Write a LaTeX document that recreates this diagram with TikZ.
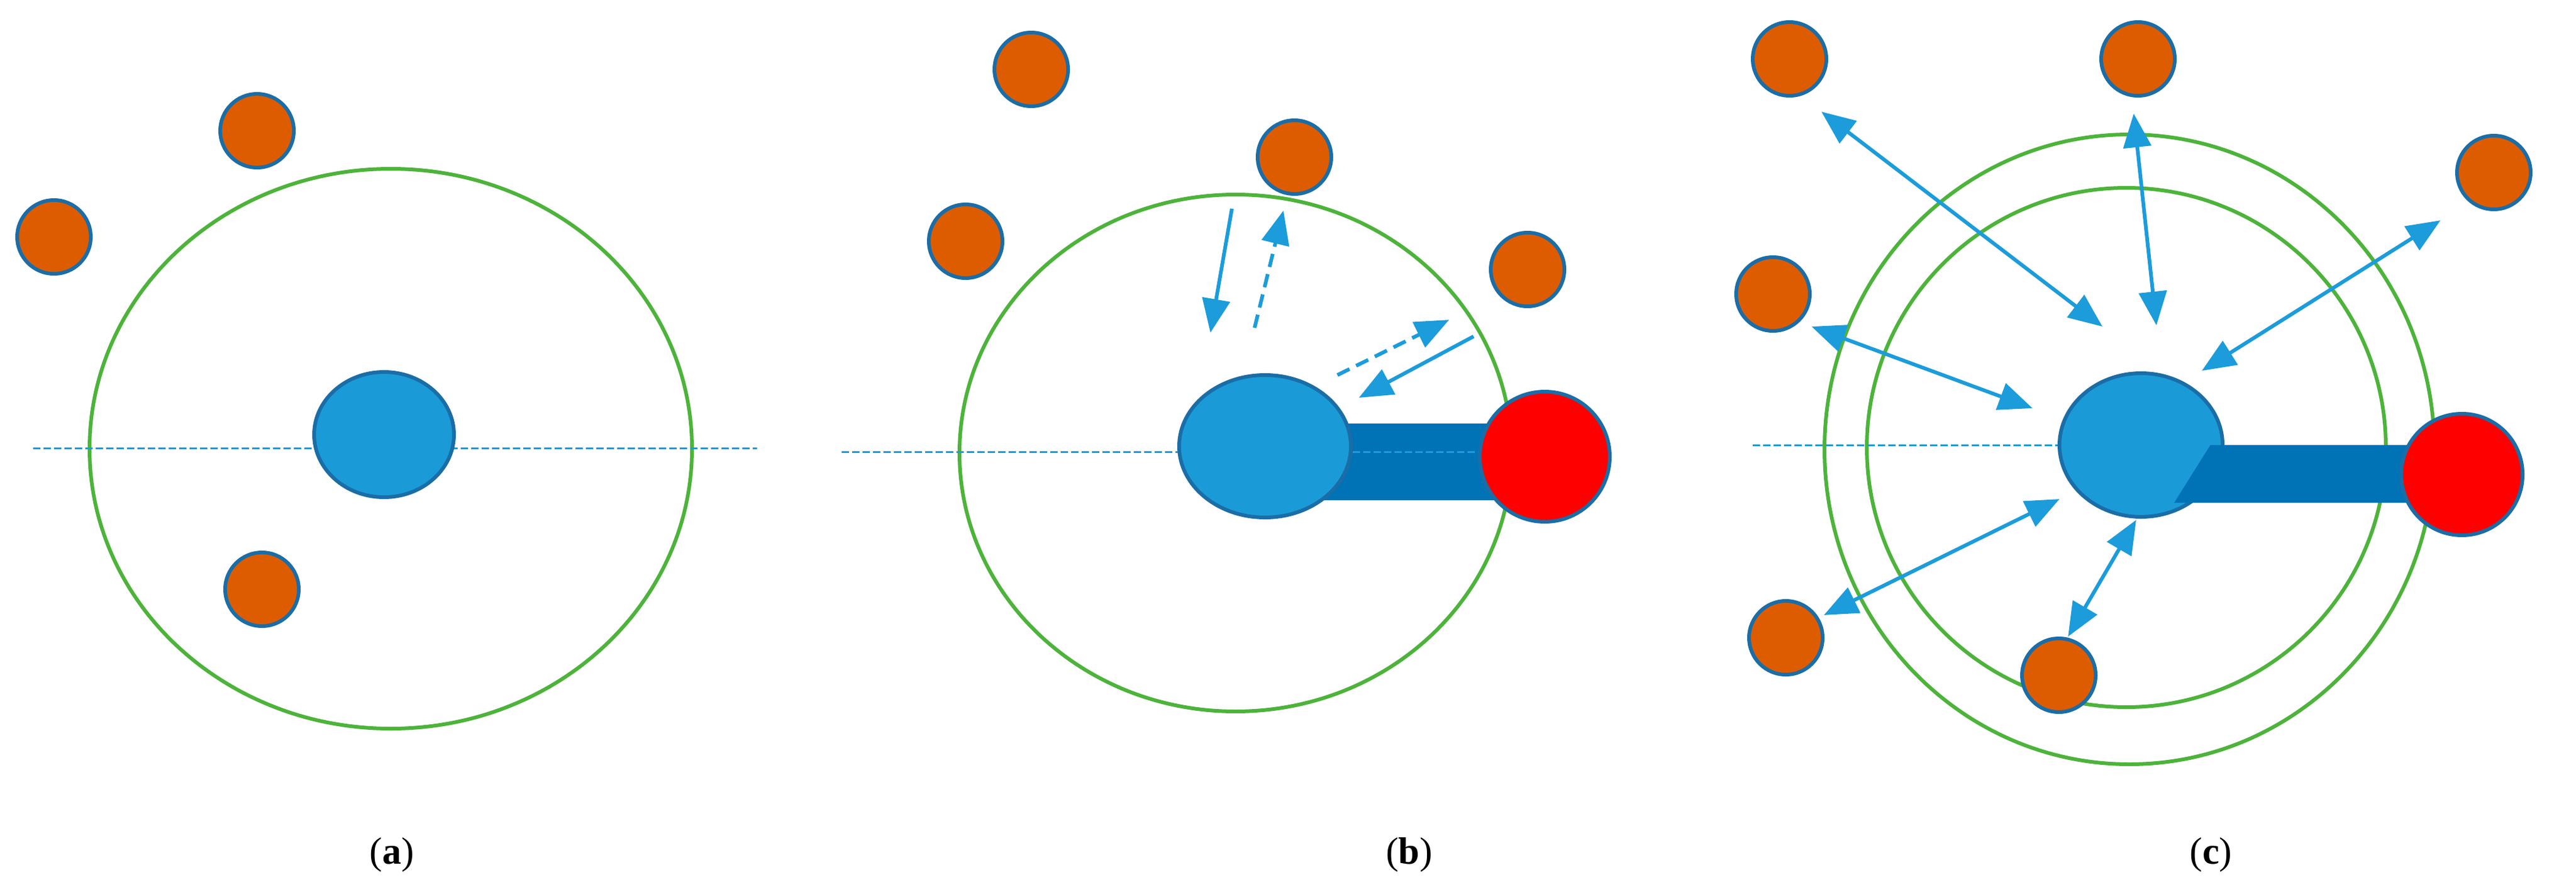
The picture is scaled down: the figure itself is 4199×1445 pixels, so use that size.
\documentclass[tikz,border=0pt]{standalone}
\usepackage{fontspec}
\setmainfont{Liberation Serif}
\usetikzlibrary{arrows.meta,shapes.geometric}
\definecolor{org}{HTML}{DE5C00}
\definecolor{bfill}{HTML}{1A9BD7}
\definecolor{bdraw}{HTML}{1B6DA6}
\definecolor{bar}{HTML}{0072B6}
\definecolor{grn}{HTML}{4DB33B}
\definecolor{arr}{HTML}{1C9CDA}
\begin{document}
\begin{tikzpicture}[x=1pt,y=-1pt,
  ion/.style={circle,fill=org,draw=bdraw,line width=6pt,minimum size=120pt,inner sep=0},
  cen/.style={ellipse,fill=bfill,draw=bdraw,line width=6pt,inner sep=0},
  red/.style={circle,fill=red,draw=bdraw,line width=6pt,inner sep=0},
  orb/.style={draw=grn,line width=6pt},
  axis/.style={draw=arr,line width=3pt,dash pattern=on 12pt off 5pt},
  ar/.style={draw=arr,line width=6pt,-{Triangle[length=55pt,width=45pt]}},
  dar/.style={ar,dash pattern=on 22pt off 12pt},
  bar/.style={fill=bar},
  lab/.style={font=\fontsize{62}{70}\selectfont}]
\useasboundingbox (0,0) rectangle (4199,1445);
% panel a
\draw[orb] (637,731) ellipse (491 and 456);
\coordinate (aL) at (54,730); \coordinate (aR) at (1234,730);
\draw[axis] (aL) -- (aR);
\node[cen,minimum width=228pt,minimum height=204pt] (ac) at (626,708) {};
\node[ion] (a1) at (419,213) {};
\node[ion] (a2) at (88,386) {};
\node[ion] (a3) at (427,960) {};
\node[lab] (la) at (639,1393) {(\textbf{a})};
% panel b
\draw[orb] (2014,738) ellipse (450 and 421);
\coordinate (bL) at (1372,736); \coordinate (bR) at (2470,736);
\fill[bar] (2100,690) rectangle (2460,815);
\draw[axis] (bL) -- (bR);
\node[cen,minimum width=280pt,minimum height=232pt] (bc) at (2062,727) {};
\node[red,minimum size=212pt] (br) at (2518,744) {};
\node[ion] (b1) at (1681,113) {};
\node[ion] (b2) at (2110,256) {};
\node[ion] (b3) at (1574,393) {};
\node[ion] (b4) at (2490,439) {};
\coordinate (p1) at (2008,340); \coordinate (p2) at (1973,542);
\coordinate (p3) at (2045,534); \coordinate (p4) at (2092,343);
\coordinate (p5) at (2180,611); \coordinate (p6) at (2362,521);
\coordinate (p7) at (2402,548); \coordinate (p8) at (2215,648);
\draw[ar] (p1) -- (p2);
\draw[dar] (p3) -- (p4);
\draw[dar] (p5) -- (p6);
\draw[ar] (p7) -- (p8);
\node[lab] (lb) at (2297,1393) {(\textbf{b})};
% panel c
\draw[orb] (3471,732) ellipse (497 and 513);
\draw[orb] (3466,729) ellipse (423 and 423);
\coordinate (cL) at (2857,725); \coordinate (cR) at (3357,725);
\draw[axis] (cL) -- (cR);
\node[cen,minimum width=266pt,minimum height=234pt] (cc) at (3490,725) {};
\fill[bar] (3544,819) -- (3603,725) -- (4013,725) -- (4013,819) -- cycle;
\node[red,minimum size=198pt] (cr) at (4013,773) {};
\node[ion] (c1) at (2917,96) {};
\node[ion] (c2) at (3485,96) {};
\node[ion] (c3) at (4065,281) {};
\node[ion] (c4) at (2890,479) {};
\node[ion] (c5) at (2911,1039) {};
\node[ion] (c6) at (3356,1100) {};
\coordinate (q1a) at (2969,182); \coordinate (q1b) at (3427,532);
\coordinate (q2a) at (3478,185); \coordinate (q2b) at (3515,530);
\coordinate (q3a) at (3978,359); \coordinate (q3b) at (3589,604);
\coordinate (q4a) at (2953,532); \coordinate (q4b) at (3313,665);
\coordinate (q5a) at (2973,1002); \coordinate (q5b) at (3357,813);
\coordinate (q6a) at (3371,1037); \coordinate (q6b) at (3482,847);
\foreach \i in {1,...,6}{\draw[ar,{Triangle[length=55pt,width=45pt]}-{Triangle[length=55pt,width=45pt]}] (q\i a) -- (q\i b);}
\node[lab] (lc) at (3604,1393) {(\textbf{c})};
\end{tikzpicture}
\end{document}
